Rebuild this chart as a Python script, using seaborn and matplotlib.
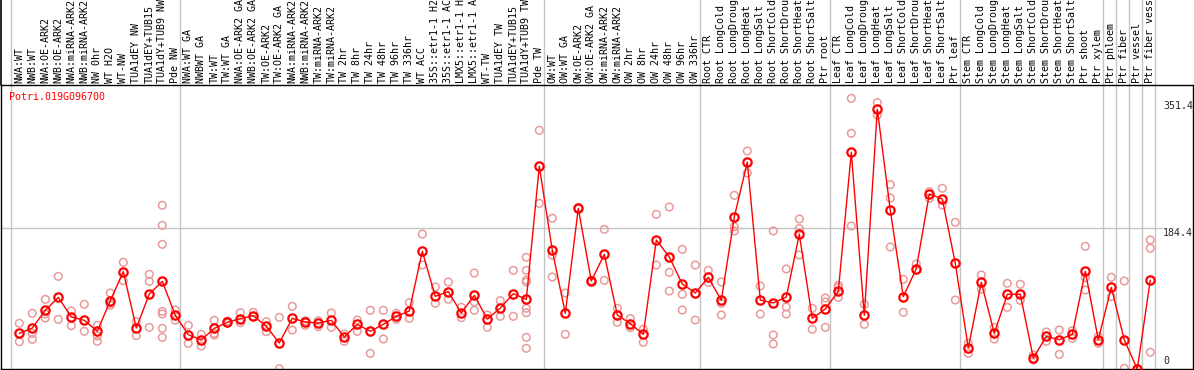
import numpy as np
import matplotlib
matplotlib.use("Agg")
import matplotlib.pyplot as plt
import pandas as pd
import seaborn as sns

gene = "Potri.019G096700"

labels = [
    "NWA:WT", "NWB:WT", "NWA:OE-ARK2", "NWB:OE-ARK2", "NWA:miRNA-ARK2", "NWB:miRNA-ARK2",
    "NW 0hr", "WT H2O", "WT-NW", "TUA1dEY NW", "TUA1dEY+TUB15", "TUA1dY+TUB9 NW", "Pde NW",
    "NWA:WT GA", "NWBWT GA", "TW:WT", "TW:WT GA", "NWA:OE-ARK2 GA", "NWB:OE-ARK2 GA",
    "TW:OE-ARK2", "TW:OE-ARK2 GA", "NWA:miRNA-ARK2", "NWB:miRNA-ARK2", "TW:miRNA-ARK2",
    "TW:miRNA-ARK2", "TW 2hr", "TW 8hr", "TW 24hr", "TW 48hr", "TW 96hr", "TW 336hr",
    "WT ACC", "35S::etr1-1 H2", "35S::etr1-1 AC", "LMX5::etr1-1 H", "LMX5::etr1-1 A",
    "WT-TW", "TUA1dEY TW", "TUA1dEY+TUB15", "TUA1dY+TUB9 TW", "Pde TW",
    "OW:WT", "OW:WT GA", "OW:OE-ARK2", "OW:OE-ARK2 GA", "OW:miRNA-ARK2", "OW:miRNA-ARK2",
    "OW 2hr", "OW 8hr", "OW 24hr", "OW 48hr", "OW 96hr", "OW 336hr",
    "Root CTR", "Root LongCold", "Root LongDroug", "Root LongHeat", "Root LongSalt",
    "Root ShortCold", "Root ShortDrou", "Root ShortHeat", "Root ShortSalt", "Ptr root",
    "Leaf CTR", "Leaf LongCold", "Leaf LongDroug", "Leaf LongHeat", "Leaf LongSalt",
    "Leaf ShortCold", "Leaf ShortDrou", "Leaf ShortHeat", "Leaf ShortSalt", "Ptr leaf",
    "Stem CTR", "Stem LongCold", "Stem LongDroug", "Stem LongHeat", "Stem LongSalt",
    "Stem ShortCold", "Stem ShortDrou", "Stem ShortHeat", "Stem ShortSalt", "Ptr shoot",
    "Ptr xylem", "Ptr phloem", "Ptr fiber", "Ptr vessel", "Ptr fiber vess",
]

group_sizes = [13, 28, 12, 10, 10, 11, 1, 1, 1, 1]

means = [
    46.7, 53.7, 76.9, 93.9, 68.2, 63.8, 49.4, 89.6, 127.6, 53.7, 98.3, 114.9, 70.3,
    45.0, 38.0, 53.3, 61.2, 66.0, 69.9, 55.9, 34.1, 66.4, 61.6, 60.3, 63.8, 41.9,
    58.5, 49.4, 58.5, 69.0, 76.0, 154.2, 95.2, 101.4, 73.4, 96.5, 65.5, 79.9, 98.7,
    91.3, 265.6,
    155.5, 73.0, 210.6, 115.3, 150.3, 70.8, 59.4, 45.4, 169.1, 146.8, 111.4, 99.6,
    120.1, 90.0, 199.2, 271.3, 90.4, 86.5, 94.4, 176.5, 66.4, 78.6,
    101.8, 284.0, 70.3, 340.3, 208.0, 94.8, 131.5, 229.4, 222.8, 138.5,
    27.5, 113.6, 46.7, 97.9, 97.9, 14.4, 42.8, 38.4, 45.4, 128.0, 38.4,
    107.0, 38.0, 0.0, 116.6,
]

reps = [
    [59.9, 35.8], [73.0, 46.7, 38.9], [91.3, 72.1, 66.8], [121.4, 65.1], [76.0, 56.8],
    [84.8, 49.4], [57.2, 43.3, 36.3], [99.6, 86.1, 83.4], [139.8, 115.8], [62.0, 43.7],
    [124.1, 114.9, 54.6], [214.5, 188.3, 163.4, 75.6, 72.1, 53.3, 41.5], [77.3, 64.0],
    [57.2, 33.6], [45.4, 30.1], [63.8, 46.7, 44.6], [62.9, 59.9], [73.8, 60.7],
    [74.3, 68.6], [62.0, 48.9], [67.7, 0.4], [82.1, 51.1], [63.3, 57.2], [63.3, 55.5],
    [73.4, 54.6], [45.9, 36.3], [64.2, 49.4], [76.9, 20.5], [76.9, 39.3], [73.0, 65.0],
    [86.9, 66.4], [176.9, 136.3], [107.5, 86.1], [114.0, 91.3], [80.8, 67.3],
    [125.8, 87.8, 76.9], [70.8, 54.6], [89.6, 69.0], [129.3, 69.0],
    [146.4, 129.3, 116.6, 114.0, 79.5, 73.8, 41.5, 27.1], [312.8, 217.1],
    [197.5, 149.0, 120.6], [99.6, 45.4], [211.5, 209.8], [116.2, 114.5],
    [183.0, 116.2], [79.5, 61.2], [66.0, 54.2], [52.0, 35.0], [202.7, 136.3],
    [212.3, 126.7, 102.2], [156.8, 97.9, 77.3], [136.3, 64.2],
    [129.3, 113.2], [114.0, 86.1, 70.8], [227.6, 186.5, 180.9], [285.7, 256.9],
    [108.8, 72.1], [180.9, 44.6, 32.8], [131.1, 81.3, 72.1], [196.6, 183.9, 149.4],
    [79.5, 52.0], [93.1, 87.8, 54.6],
    [109.7, 107.0, 93.9], [354.7, 308.9, 187.4], [84.8, 58.5], [349.1, 332.9],
    [241.6, 224.1, 159.9], [117.5, 74.3], [137.6, 129.7], [232.4, 223.7],
    [236.8, 214.9], [192.2, 90.4],
    [33.6, 20.5], [123.2, 104.4], [54.6, 39.3], [112.3, 80.8], [111.0, 90.0],
    [18.3, 11.8], [48.5, 36.3], [51.1, 19.2], [50.2, 40.2], [160.8, 119.7, 103.5],
    [42.4, 33.6],
    [120.2, 94.8], [115.3, 0.9], [0.0, 0.0], [169.1, 158.2, 21.9],
]

y_marks = [351.4, 184.4, 0]

sns.set_theme(style="white")
plt.rcParams['font.family'] = ['DejaVu Sans Mono']

W, H = 1194, 370
fig = plt.figure(figsize=(W / 100, H / 100), dpi=100)
# plot box: x from px 1 to 1193, y from px 85 (top) to 369 (bottom)
ax = fig.add_axes([1 / W, 1 / H, 1192 / W, 284 / H])

rep_df = pd.DataFrame([(i, v) for i, vals in enumerate(reps) for v in vals],
                      columns=["idx", "value"])
mean_df = pd.DataFrame({"idx": np.arange(len(means)), "value": means})

sns.scatterplot(data=rep_df, x="idx", y="value", ax=ax, marker="o", s=30,
                facecolors="none", edgecolor="#e99a9a", linewidth=1.1, zorder=2)
sns.lineplot(data=mean_df, x="idx", y="value", ax=ax, color="#ff0000", lw=1,
             marker="o", markersize=6, markerfacecolor="none",
             markeredgecolor="#ff0000", markeredgewidth=1.6, zorder=3)

ax.set_xlim((1 - 19.3) / 13, (1193 - 19.3) / 13)
ax.set_ylim(0, 372.2)
ax.set_xticks([])
ax.set_yticks([])
ax.set_xlabel("")
ax.set_ylabel("")
for s in ax.spines.values():
    s.set_color("black")
    s.set_linewidth(1)

top = 369 / 284  # axes fraction of the figure top

# group separators (grey), running up through the label strip
ends = np.cumsum([0] + group_sizes) - 1
for e in ends:
    ax.axvline(e + 0.37, ymin=0, ymax=top, color="#c4c4c4", lw=1,
               clip_on=False, zorder=1)
ax.axvline(ax.get_xlim()[0], ymin=1, ymax=top, color="black", lw=1.2, clip_on=False)

# horizontal guide
ax.axhline(y_marks[1], xmin=0, xmax=(1162 - 1) / 1192, color="#c4c4c4", lw=1, zorder=1)

# column labels
xt = ax.get_xaxis_transform()
for i, lab in enumerate(labels):
    ax.text(i, (369 - 83) / 284, lab, rotation=90, ha="center", va="bottom",
            fontsize=7.2, color="black", transform=xt, clip_on=False)

# value labels at right
yt = ax.get_yaxis_transform()
xr = (1163 - 1) / 1192
ax.text(xr, y_marks[0], "351.4", ha="left", va="top", fontsize=7.2, transform=yt)
ax.text(xr, y_marks[1], "184.4", ha="left", va="top", fontsize=7.2, transform=yt)
ax.text(xr, y_marks[2] + 4, "0", ha="left", va="bottom", fontsize=7.2, transform=yt)

ax.text((9 - 1) / 1192, (369 - 97) / 284, gene, ha="left", va="center",
        fontsize=7.2, color="#ff0000", transform=ax.transAxes)

fig.savefig("out.png", dpi=100)
